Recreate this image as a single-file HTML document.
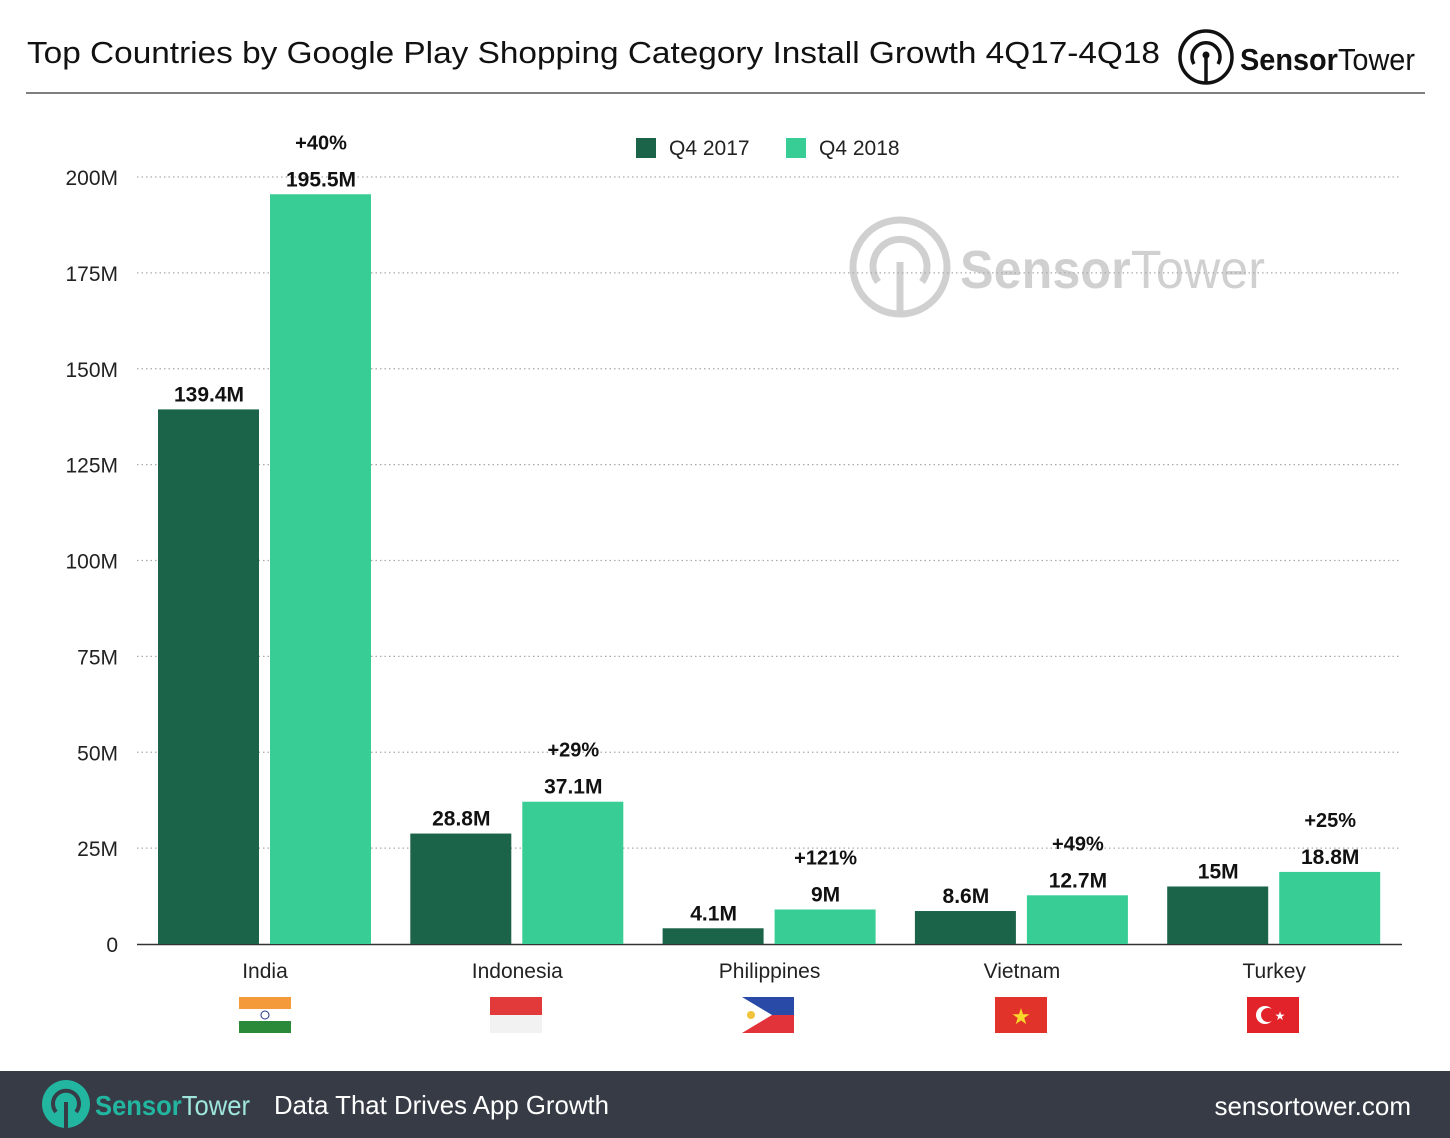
<!DOCTYPE html>
<html><head><meta charset="utf-8"><style>
body{margin:0;width:1450px;height:1138px;background:#fff;font-family:"Liberation Sans",sans-serif;overflow:hidden;position:relative}
</style></head><body>
<svg width="1450" height="1138" style="position:absolute;left:0;top:0">
<text x="27" y="63" font-size="31" fill="#111" textLength="1133" lengthAdjust="spacingAndGlyphs">Top Countries by Google Play Shopping Category Install Growth 4Q17-4Q18</text>
<g>
<circle cx="1206" cy="57" r="26" fill="none" stroke="#111" stroke-width="3.5"/>
<path d="M1194 64 a14 14 0 1 1 24 0" fill="none" stroke="#111" stroke-width="3.5"/>
<circle cx="1206" cy="55" r="3.5" fill="#111"/><line x1="1206" y1="55" x2="1206" y2="83" stroke="#111" stroke-width="3.5"/>
<text x="1240" y="70" font-size="31" fill="#111" textLength="175" lengthAdjust="spacingAndGlyphs"><tspan font-weight="bold">Sensor</tspan>Tower</text>
</g>
<line x1="26" y1="93" x2="1425" y2="93" stroke="#555" stroke-width="1.5"/>
<g opacity="0.18">
<circle cx="900" cy="267" r="47" fill="none" stroke="#000" stroke-width="7"/>
<path d="M878 282 a27 27 0 1 1 44 0" fill="none" stroke="#000" stroke-width="7"/>
<line x1="900" y1="262" x2="900" y2="312" stroke="#000" stroke-width="7"/>
<text x="960" y="288" font-size="54" fill="#000" textLength="305" lengthAdjust="spacingAndGlyphs"><tspan font-weight="bold">Sensor</tspan>Tower</text>
</g>
<g id="plot"></g>
<g>
<rect x="636" y="138" width="20" height="20" fill="#1b6349"/>
<text x="669" y="155" font-size="21" fill="#222">Q4 2017</text>
<rect x="786" y="138" width="20" height="20" fill="#37cd95"/>
<text x="819" y="155" font-size="21" fill="#222">Q4 2018</text>
</g>
<g id="flags"></g>
<rect x="0" y="1071" width="1450" height="67" fill="#363b45"/>
<g>
<circle cx="66" cy="1104" r="24" fill="#22b5a0"/>
<path d="M56 1112 a13 13 0 1 1 20 0" fill="none" stroke="#363b45" stroke-width="4"/>
<line x1="66" y1="1102" x2="66" y2="1128" stroke="#363b45" stroke-width="4"/>
<text x="95" y="1115" font-size="28" fill="#22b5a0" textLength="155" lengthAdjust="spacingAndGlyphs"><tspan font-weight="bold">Sensor</tspan><tspan fill="#9fe6dc">Tower</tspan></text>
</g>
<text x="274" y="1114" font-size="26" fill="#fff" textLength="335" lengthAdjust="spacingAndGlyphs">Data That Drives App Growth</text>
<text x="1411" y="1115" font-size="26" fill="#fff" text-anchor="end">sensortower.com</text>
</svg>
<script>
const categories=["India","Indonesia","Philippines","Vietnam","Turkey"];
const q42017=[139.4,28.8,4.1,8.6,15];
const q42018=[195.5,37.1,9,12.7,18.8];
const labels2017=["139.4M","28.8M","4.1M","8.6M","15M"];
const labels2018=["195.5M","37.1M","9M","12.7M","18.8M"];
const growth=["+40%","+29%","+121%","+49%","+25%"];
const yTicks=[0,25,50,75,100,125,150,175,200];
const yTickLabels=["0","25M","50M","75M","100M","125M","150M","175M","200M"];
const NS="http://www.w3.org/2000/svg";
const y=v=>944-v*(767/200);
const xc=i=>265+i*252.3;
const plot=document.getElementById('plot');
function mk(tag,attrs,txt){const e=document.createElementNS(NS,tag);for(const k in attrs)e.setAttribute(k,attrs[k]);if(txt!=null)e.textContent=txt;plot.appendChild(e);return e;}
yTicks.forEach((t,i)=>{
 if(t>0){const g=mk('line',{x1:137,x2:1400,y1:y(t),y2:y(t),stroke:'#aaa','stroke-width':1.3,'stroke-dasharray':'1.5 3'});
 
 }
 const l=mk('text',{x:118,y:y(t)+8,'font-size':21,fill:'#222','text-anchor':'end'},yTickLabels[i]);
 
 
});
const ax=mk('line',{x1:137,x2:1402,y1:944.5,y2:944.5,stroke:'#333','stroke-width':1.5});


categories.forEach((c,i)=>{
 const cx=xc(i);
 const b1=mk('rect',{x:cx-107,y:y(q42017[i]),width:101,height:944-y(q42017[i]),fill:'#1b6349'});
 
 
 const b2=mk('rect',{x:cx+5,y:y(q42018[i]),width:101,height:944-y(q42018[i]),fill:'#37cd95'});
 
 
 const v1=mk('text',{x:cx-56,y:y(q42017[i])-8,'font-size':21,'font-weight':'bold',fill:'#111','text-anchor':'middle'},labels2017[i]);
 
 
 const v2=mk('text',{x:cx+56,y:y(q42018[i])-8,'font-size':21,'font-weight':'bold',fill:'#111','text-anchor':'middle'},labels2018[i]);
 
 
 const g=mk('text',{x:cx+56,y:y(q42018[i])-45,'font-size':20,'font-weight':'bold',fill:'#111','text-anchor':'middle'},growth[i]);
 
 
 const cl=mk('text',{x:cx,y:978,'font-size':21,fill:'#222','text-anchor':'middle'},c);
 
 
});
const flags=document.getElementById('flags');
flags.innerHTML=`
<g><rect x="239" y="997" width="52" height="12" fill="#f49a3a"/><rect x="239" y="1009" width="52" height="12" fill="#fff"/><rect x="239" y="1021" width="52" height="12" fill="#2a8a3a"/><circle cx="265" cy="1015" r="4" fill="none" stroke="#223a8a"/></g>
<g><rect x="490" y="997" width="52" height="18" fill="#e23a3a"/><rect x="490" y="1015" width="52" height="18" fill="#f2f2f2"/></g>
<g><rect x="742" y="997" width="52" height="18" fill="#2a4aa8"/><rect x="742" y="1015" width="52" height="18" fill="#e2333a"/><polygon points="742,997 772,1015 742,1033" fill="#fff"/><circle cx="751" cy="1015" r="4" fill="#f2c23a"/></g>
<g><rect x="995" y="997" width="52" height="36" fill="#e2332a"/><text x="1021" y="1024" font-size="22" fill="#f8d82a" text-anchor="middle">★</text></g>
<g><rect x="1247" y="997" width="52" height="36" fill="#e2232a"/><circle cx="1265" cy="1015" r="9" fill="#fff"/><circle cx="1268" cy="1015" r="7" fill="#e2232a"/><text x="1280" y="1020" font-size="12" fill="#fff" text-anchor="middle">★</text></g>`;
</script>
</body></html>
